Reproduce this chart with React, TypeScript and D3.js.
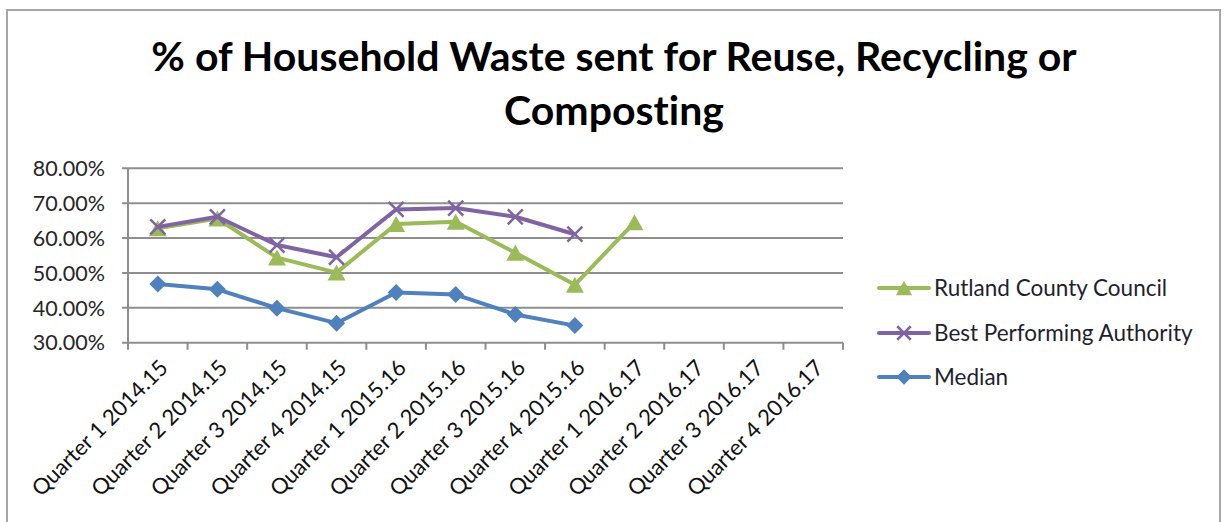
import React, { useEffect, useRef } from 'react';
import * as d3 from 'd3';

// categories and series (percent values)
const categories = [
  'Quarter 1 2014.15', 'Quarter 2 2014.15', 'Quarter 3 2014.15', 'Quarter 4 2014.15',
  'Quarter 1 2015.16', 'Quarter 2 2015.16', 'Quarter 3 2015.16', 'Quarter 4 2015.16',
  'Quarter 1 2016.17', 'Quarter 2 2016.17', 'Quarter 3 2016.17', 'Quarter 4 2016.17',
];
const rutland = [62.8, 65.6, 54.4, 50.1, 64.0, 64.7, 55.8, 46.6, 64.5, null, null, null];
const bestAuthority = [63.2, 66.1, 58.0, 54.5, 68.2, 68.6, 66.1, 61.1, null, null, null, null];
const median = [46.8, 45.3, 39.9, 35.6, 44.4, 43.8, 38.1, 34.9, null, null, null, null];
const yTicks = [30, 40, 50, 60, 70, 80];

const titleLines = ['% of Household Waste sent for Reuse, Recycling or', 'Composting'];

const series = [
  { name: 'Rutland County Council', values: rutland, color: '#9BBB59', marker: 'triangle' },
  { name: 'Best Performing Authority', values: bestAuthority, color: '#8064A2', marker: 'x' },
  { name: 'Median', values: median, color: '#4F81BD', marker: 'diamond' },
];

const W = 1227;
const H = 522;
const FONT = "Lato, 'Open Sans', sans-serif";

const App: React.FC = () => {
  const svgRef = useRef<SVGSVGElement>(null);

  useEffect(() => {
    if (!svgRef.current) return;
    const svg = d3.select(svgRef.current);
    svg.selectAll('*').remove();

    const left = 128, right = 843, top = 168.3, bottom = 342.7;

    const x = d3.scaleBand<string>().domain(categories).range([left, right]);
    const y = d3.scaleLinear().domain([30, 80]).range([bottom, top]);

    // chart frame
    svg.append('rect')
      .attr('x', 7).attr('y', 10)
      .attr('width', 1213).attr('height', H + 20)
      .attr('fill', '#fff')
      .attr('stroke', '#a6a6a6')
      .attr('stroke-width', 2);

    // title
    titleLines.forEach((t, i) => {
      svg.append('text')
        .attr('x', 614)
        .attr('y', 71 + i * 54)
        .attr('text-anchor', 'middle')
        .style('font-family', FONT)
        .style('font-weight', 700)
        .style('font-size', '41px')
        .style('font-variant-ligatures', 'none')
        .style('fill', '#000')
        .text(t);
    });

    // gridlines
    svg.append('g')
      .selectAll('line')
      .data(yTicks)
      .join('line')
      .attr('x1', left - 6).attr('x2', right)
      .attr('y1', (d) => y(d)).attr('y2', (d) => y(d))
      .attr('stroke', '#8e8e8e')
      .attr('stroke-width', 2);

    // y axis
    svg.append('line')
      .attr('x1', left).attr('x2', left)
      .attr('y1', top).attr('y2', bottom)
      .attr('stroke', '#8e8e8e').attr('stroke-width', 2);

    svg.append('g')
      .selectAll('text')
      .data(yTicks)
      .join('text')
      .attr('x', 105)
      .attr('y', (d) => y(d))
      .attr('dy', '0.36em')
      .attr('text-anchor', 'end')
      .style('font-family', FONT)
      .style('font-size', '21.5px')
      .style('fill', '#262626')
      .text((d) => d3.format('.2f')(d) + '%');

    // x axis ticks
    const boundaries = categories.map((c) => x(c) as number).concat([right]);
    svg.append('g')
      .selectAll('line')
      .data(boundaries)
      .join('line')
      .attr('x1', (d) => d).attr('x2', (d) => d)
      .attr('y1', bottom).attr('y2', bottom + 7)
      .attr('stroke', '#8e8e8e').attr('stroke-width', 2);

    svg.append('g')
      .selectAll('text')
      .data(categories)
      .join('text')
      .attr('transform', (d) => {
        const cx = (x(d) as number) + x.bandwidth() / 2 + 6;
        return `translate(${cx},${bottom + 21}) rotate(-45)`;
      })
      .attr('text-anchor', 'end')
      .attr('dy', '0.35em')
      .style('font-family', FONT)
      .style('font-size', '22px')
      .style('fill', '#111')
      .text((d) => d);

    const cxOf = (i: number) => (x(categories[i]) as number) + x.bandwidth() / 2;

    const drawMarker = (g: any, kind: string, px: number, py: number, color: string, scale = 1) => {
      if (kind === 'triangle') {
        const w = 9 * scale, h = 8 * scale;
        g.append('path')
          .attr('d', `M${px},${py - h} L${px + w},${py + h} L${px - w},${py + h} Z`)
          .attr('fill', color);
      } else if (kind === 'diamond') {
        const r = 8.5 * scale;
        g.append('path')
          .attr('d', `M${px},${py - r} L${px + r},${py} L${px},${py + r} L${px - r},${py} Z`)
          .attr('fill', color);
      } else {
        const r = 7.5 * scale;
        g.append('path')
          .attr('d', `M${px - r},${py - r} L${px + r},${py + r} M${px - r},${py + r} L${px + r},${py - r}`)
          .attr('stroke', color)
          .attr('stroke-width', 2.5)
          .attr('fill', 'none');
      }
    };

    const line = d3.line<number | null>()
      .defined((d) => d != null)
      .x((_, i) => cxOf(i))
      .y((d) => y(d as number));

    // median first, then rutland, purple on top
    const order = [2, 0, 1];
    order.forEach((si) => {
      const s = series[si];
      const g = svg.append('g');
      g.append('path')
        .datum(s.values)
        .attr('d', line as any)
        .attr('fill', 'none')
        .attr('stroke', s.color)
        .attr('stroke-width', 4)
        .attr('stroke-linejoin', 'round')
        .attr('stroke-linecap', 'round');
      s.values.forEach((v, i) => {
        if (v == null) return;
        drawMarker(g, s.marker, cxOf(i), y(v), s.color);
      });
    });

    // legend
    const legendY = [288, 333, 377];
    series.forEach((s, i) => {
      const g = svg.append('g');
      g.append('line')
        .attr('x1', 879).attr('x2', 929)
        .attr('y1', legendY[i]).attr('y2', legendY[i])
        .attr('stroke', s.color).attr('stroke-width', 4)
        .attr('stroke-linecap', 'round');
      drawMarker(g, s.marker, 904, legendY[i], s.color, 0.9);
      g.append('text')
        .attr('x', 934)
        .attr('y', legendY[i])
        .attr('dy', '0.35em')
        .style('font-family', FONT)
        .style('font-size', '22.5px')
        .style('fill', '#1f1f2e')
        .text(s.name);
    });
  }, []);

  return (
    <svg
      ref={svgRef}
      width={W}
      height={H}
      style={{ position: 'absolute', left: 0, top: 0, background: '#fff' }}
    />
  );
};

export default App;
